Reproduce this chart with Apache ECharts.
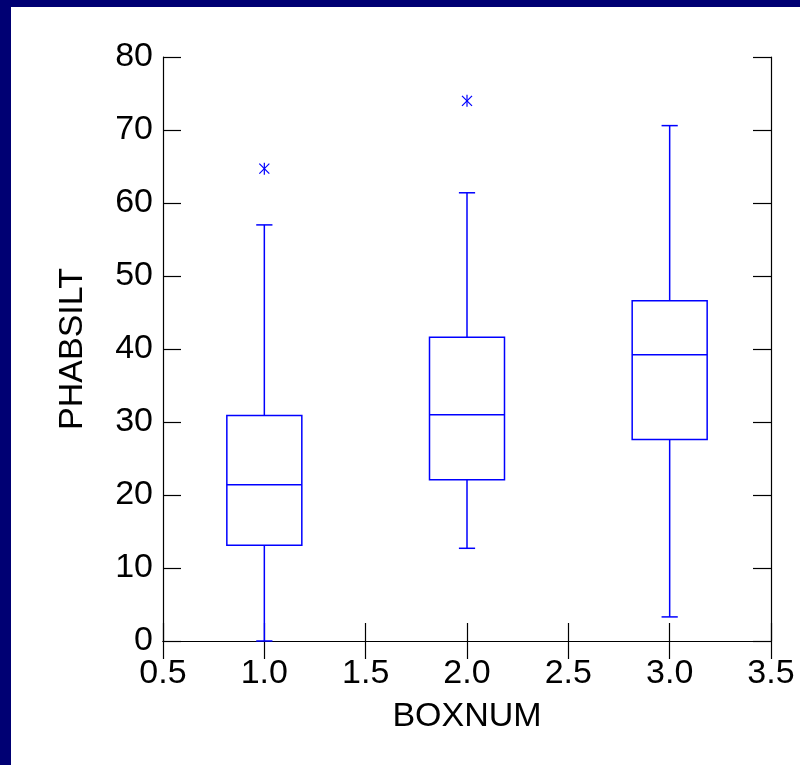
<!DOCTYPE html>
<html><head><meta charset="utf-8">
<script src="https://cdn.jsdelivr.net/npm/echarts@6/dist/echarts.min.js"></script>
<style>html,body{margin:0;padding:0;background:#fff}#c{width:800px;height:765px}</style>
</head><body><div id="c"></div>
<script>
// Data
const positions = [1, 2, 3];
const boxMin    = [0.0, 12.7, 3.3];
const boxQ1     = [13.1, 22.1, 27.6];
const boxMedian = [21.4, 31.0, 39.2];
const boxQ3     = [30.9, 41.6, 46.6];
const boxMax    = [57.0, 61.4, 70.6];
const outlierX  = [1, 2];
const outlierY  = [64.7, 74.0];
const xTicks = ['0.5','1.0','1.5','2.0','2.5','3.0','3.5'];

const BLUE = '#0000ff';
const boxData = positions.map((p, i) => [p, boxMin[i], boxQ1[i], boxMedian[i], boxQ3[i], boxMax[i]]);
const outData = outlierX.map((x, i) => [x, outlierY[i]]);

const chart = echarts.init(document.getElementById('c'));
const font = 'Liberation Sans, Arial, sans-serif';
const FS = 34;
const axisCommon = {
  axisLine: {show: true, lineStyle: {color: '#000', width: 1.2}},
  axisTick: {show: true, inside: true, length: 18, lineStyle: {color: '#000', width: 1.2}},
  splitLine: {show: false}
};
chart.setOption({
  backgroundColor: '#fff',
  animation: false,
  graphic: [
    {type: 'rect', shape: {x: 0, y: 0, width: 800, height: 7}, style: {fill: '#000073'}, z: 100},
    {type: 'rect', shape: {x: 0, y: 0, width: 11, height: 765}, style: {fill: '#000073'}, z: 100}
  ],
  grid: {left: 163, right: 29, top: 57, bottom: 124, containLabel: false},
  xAxis: [
    Object.assign({}, axisCommon, {
      type: 'value', position: 'bottom', min: 0.5, max: 3.5, interval: 0.5,
      name: 'BOXNUM', nameLocation: 'middle', nameGap: 59,
      nameTextStyle: {fontSize: FS, color: '#000', fontFamily: font},
      axisLabel: {fontSize: FS, color: '#000', fontFamily: font, margin: 16,
        formatter: v => xTicks[Math.round((v - 0.5) / 0.5)] || v.toFixed(1)}
    }),
    Object.assign({}, axisCommon, {
      type: 'value', position: 'top', min: 0.5, max: 3.5, interval: 0.5,
      axisLabel: {show: false}
    })
  ],
  yAxis: [
    Object.assign({}, axisCommon, {
      type: 'value', position: 'left', min: 0, max: 80, interval: 10,
      name: 'PHABSILT', nameLocation: 'middle', nameGap: 73, nameRotate: 90,
      nameTextStyle: {fontSize: FS, color: '#000', fontFamily: font},
      axisLabel: {fontSize: FS, color: '#000', fontFamily: font, margin: 10}
    }),
    Object.assign({}, axisCommon, {
      type: 'value', position: 'right', min: 0, max: 80, interval: 10,
      axisLabel: {show: false}
    })
  ],
  series: [
    {
      type: 'custom',
      data: boxData,
      renderItem: function (params, api) {
        const x = api.value(0);
        const halfW = 0.185, capW = 0.04;
        const pMin = api.coord([x, api.value(1)]);
        const pQ1 = api.coord([x, api.value(2)]);
        const pMed = api.coord([x, api.value(3)]);
        const pQ3 = api.coord([x, api.value(4)]);
        const pMax = api.coord([x, api.value(5)]);
        const xl = api.coord([x - halfW, 0])[0];
        const xr = api.coord([x + halfW, 0])[0];
        const cl = api.coord([x - capW, 0])[0];
        const cr = api.coord([x + capW, 0])[0];
        const cx = pMin[0];
        const st = {stroke: BLUE, lineWidth: 1.5, fill: null};
        const line = (x1, y1, x2, y2) => ({type: 'line', shape: {x1, y1, x2, y2}, style: st});
        return {type: 'group', children: [
          {type: 'rect', shape: {x: xl, y: pQ3[1], width: xr - xl, height: pQ1[1] - pQ3[1]}, style: st},
          line(xl, pMed[1], xr, pMed[1]),
          line(cx, pQ3[1], cx, pMax[1]),
          line(cx, pQ1[1], cx, pMin[1]),
          line(cl, pMax[1], cr, pMax[1]),
          line(cl, pMin[1], cr, pMin[1])
        ]};
      }
    },
    {
      type: 'custom',
      data: outData,
      renderItem: function (params, api) {
        const p = api.coord([api.value(0), api.value(1)]);
        const r = 6, d = 5;
        const st = {stroke: BLUE, lineWidth: 1.2};
        return {type: 'group', children: [
          {type: 'line', shape: {x1: p[0], y1: p[1] - r, x2: p[0], y2: p[1] + r}, style: st},
          {type: 'line', shape: {x1: p[0] - d, y1: p[1] - d, x2: p[0] + d, y2: p[1] + d}, style: st},
          {type: 'line', shape: {x1: p[0] - d, y1: p[1] + d, x2: p[0] + d, y2: p[1] - d}, style: st}
        ]};
      }
    }
  ]
});
</script></body></html>
